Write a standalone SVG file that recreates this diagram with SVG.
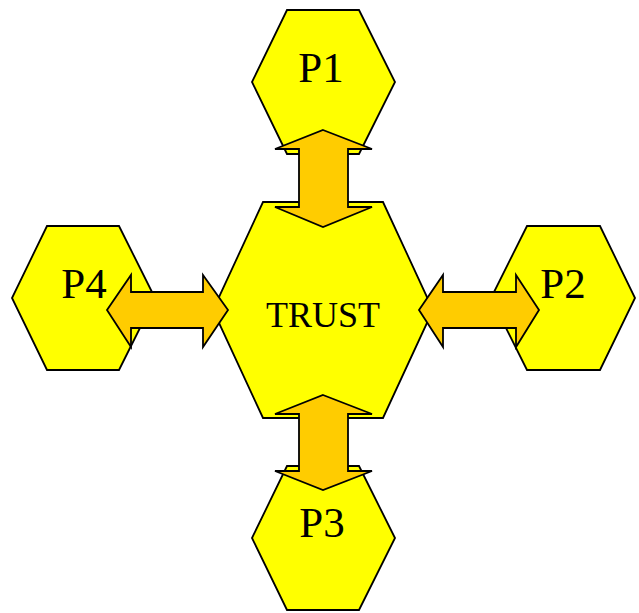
<svg xmlns="http://www.w3.org/2000/svg" width="639" height="613" viewBox="0 0 639 613">
<style>
.hex{fill:#FFFF00;stroke:#000;stroke-width:1.8;stroke-linejoin:miter}
.arr{fill:#FFCC00;stroke:#000;stroke-width:1.8;stroke-linejoin:miter}
.lbl{font-family:"Liberation Serif","Times New Roman",serif;fill:#000;text-anchor:middle}
.p{font-size:43px}
.t{font-size:36px}
</style>
<rect width="639" height="613" fill="#fff"/>
<g id="P1">
<polygon class="hex" points="287,10 359,10 395,82 359,154 287,154 252,82"/>
<text class="lbl p" x="321" y="82">P1</text>
</g>
<g id="P2">
<polygon class="hex" points="527,226 600,226 635,298 600,370 527,370 491,298"/>
<text class="lbl p" x="563" y="298">P2</text>
</g>
<g id="P3">
<polygon class="hex" points="287,466 359,466 395,538 359,610 287,610 252,538"/>
<text class="lbl p" x="322" y="537">P3</text>
</g>
<g id="P4">
<polygon class="hex" points="47,226 119,226 155,298 119,370 47,370 12,298"/>
<text class="lbl p" x="84" y="298">P4</text>
</g>
<g id="TRUST">
<polygon class="hex" points="263,202 383,202 433,310 383,418 263,418 213,310"/>
<text class="lbl t" x="323" y="327">TRUST</text>
</g>
<g id="connectors">
<polygon class="arr" points="323,130 372,149 348,149 348,207 372,207 323,227 275,207 299,207 299,149 275,149"/>
<polygon class="arr" points="323,395 372,414 348,414 348,471 372,471 323,490 275,471 299,471 299,414 275,414"/>
<polygon class="arr" points="107,310 131,275 131,292 203,292 203,275 228,310 203,347 203,328 131,328 131,347"/>
<polygon class="arr" points="419,310 443,275 443,292 516,292 516,275 539,310 516,347 516,328 443,328 443,347"/>
</g>
</svg>
